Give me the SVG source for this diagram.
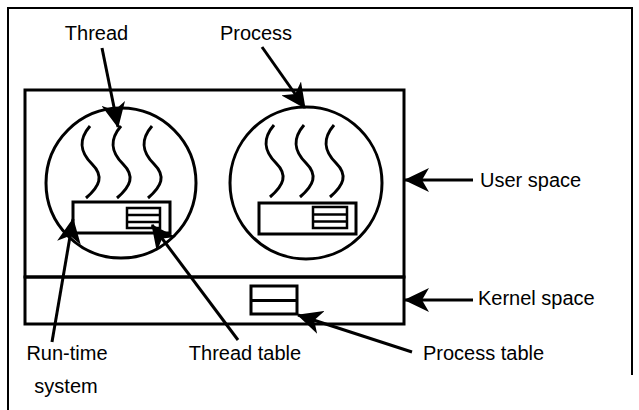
<svg xmlns="http://www.w3.org/2000/svg" width="639" height="410" viewBox="0 0 639 410">
<style>
.frame{fill:none;stroke:#000;stroke-width:2}
.box{fill:none;stroke:#000;stroke-width:3}
.thin{fill:none;stroke:#000;stroke-width:2.5}
.wave{fill:none;stroke:#000;stroke-width:3;stroke-linecap:butt}
.arr{fill:none;stroke:#000;stroke-width:3;marker-end:url(#ah)}
text{font-family:"Liberation Sans",Arial,sans-serif;font-size:20px;fill:#000}
</style>
<defs>
<marker id="ah" markerUnits="userSpaceOnUse" viewBox="0 0 25 24" markerWidth="25" markerHeight="24" refX="24" refY="12" orient="auto">
<path d="M0,0 L25,12 L0,24 L7,12 Z" fill="#000"/>
</marker>
<path id="wv" d="M4,0 C-8,14 -6,26 6,38 C18,50 14,60 0,72"/>
</defs>
<path class="frame" d="M8,410 L8,8 L632,8 L632,375"/>
<g id="user-space-box">
<rect class="box" x="25" y="90" width="379" height="187"/>
</g>
<g id="kernel-space-box">
<rect class="box" x="25" y="277" width="379" height="47"/>
</g>
<g id="process1">
<circle class="box" cx="121" cy="183" r="75"/>
<use href="#wv" class="wave" x="86" y="126"/>
<use href="#wv" class="wave" x="117" y="126"/>
<use href="#wv" class="wave" x="148" y="126"/>
<rect class="box" x="73" y="202" width="97" height="31"/>
<rect class="thin" x="127" y="208" width="33" height="20"/>
<line class="thin" x1="127" y1="215" x2="160" y2="215"/>
<line class="thin" x1="127" y1="222" x2="160" y2="222"/>
</g>
<g id="process2">
<circle class="box" cx="306" cy="183" r="76"/>
<use href="#wv" class="wave" x="270" y="125"/>
<use href="#wv" class="wave" x="300" y="125"/>
<use href="#wv" class="wave" x="330" y="125"/>
<rect class="box" x="259" y="203" width="97" height="31"/>
<rect class="thin" x="313" y="207" width="34" height="21"/>
<line class="thin" x1="313" y1="214.5" x2="347" y2="214.5"/>
<line class="thin" x1="313" y1="221.5" x2="347" y2="221.5"/>
</g>
<g id="process-table">
<rect class="box" x="251" y="286" width="46" height="28"/>
<line class="box" x1="251" y1="300.5" x2="297" y2="300.5"/>
</g>
<g id="connectors">
<line class="arr" x1="102" y1="48" x2="118" y2="127"/>
<line class="arr" x1="262" y1="47" x2="305" y2="108"/>
<line class="arr" x1="473" y1="180" x2="405" y2="180"/>
<line class="arr" x1="473" y1="300" x2="405" y2="300"/>
<line class="arr" x1="412" y1="352" x2="298" y2="315"/>
<line class="arr" x1="238" y1="340" x2="152" y2="225"/>
<line class="arr" x1="52" y1="342" x2="73" y2="219"/>
</g>
<g id="labels">
<text x="96.5" y="40" text-anchor="middle">Thread</text>
<text x="256" y="40" text-anchor="middle">Process</text>
<text x="480" y="187">User space</text>
<text x="478" y="305">Kernel space</text>
<text x="423" y="360">Process table</text>
<text x="245" y="360" text-anchor="middle">Thread table</text>
<text x="67" y="360" text-anchor="middle">Run-time</text>
<text x="66" y="393" text-anchor="middle">system</text>
</g>
</svg>
